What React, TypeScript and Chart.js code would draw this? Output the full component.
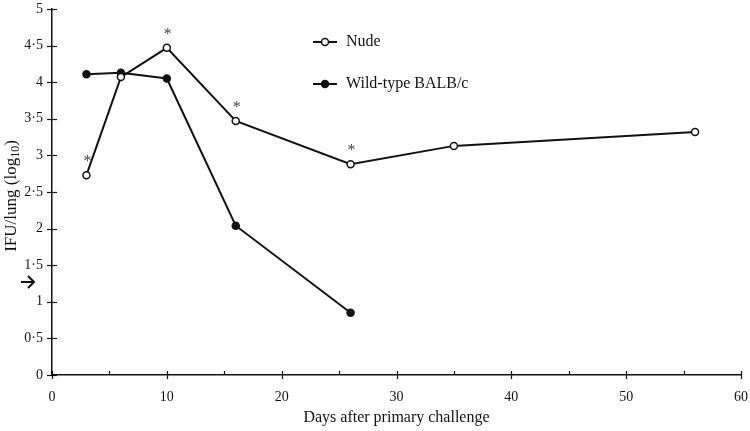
import React, { useEffect, useRef } from "react";
import { Chart, registerables } from "chart.js";

Chart.register(...registerables);

// ---- data ----
const seriesLabels = ["Nude", "Wild-type BALB/c"];
const nudeDays = [3, 6, 10, 16, 26, 35, 56];
const nudeValues = [2.73, 4.07, 4.47, 3.47, 2.88, 3.13, 3.32];
const wildDays = [3, 6, 10, 16, 26];
const wildValues = [4.11, 4.13, 4.05, 2.04, 0.85];
const asteriskDays = [3, 10, 16, 26];
const xMajorTicks = [0, 10, 20, 30, 40, 50, 60];
const xMinorTicks = [5, 15, 25, 35, 45, 55];
const yTicks = [0, 0.5, 1, 1.5, 2, 2.5, 3, 3.5, 4, 4.5, 5];
const detectionLimit = 1.27;
const xTitle = "Days after primary challenge";
const yTitleMain = "IFU/lung (log";
const yTitleSub = "10";
const yTitleEnd = ")";

const FONT = "'Liberation Serif', 'DejaVu Serif', serif";
const INK = "#111";

const decor = {
  id: "decor",
  afterDraw(chart: any) {
    const ctx = chart.ctx as CanvasRenderingContext2D;
    const xs = chart.scales.x;
    const ys = chart.scales.y;
    const area = chart.chartArea;
    ctx.save();
    ctx.strokeStyle = INK;
    ctx.lineWidth = 1.2;
    for (const v of yTicks) {
      const py = Math.round(ys.getPixelForValue(v)) + 0.5;
      ctx.beginPath();
      ctx.moveTo(area.left - 5, py);
      ctx.lineTo(area.left + 5, py);
      ctx.stroke();
    }
    for (const v of xMajorTicks) {
      const px = Math.round(xs.getPixelForValue(v)) + 0.5;
      ctx.beginPath();
      ctx.moveTo(px, area.bottom - 4);
      ctx.lineTo(px, area.bottom + 4);
      ctx.stroke();
    }
    for (const v of xMinorTicks) {
      const px = Math.round(xs.getPixelForValue(v)) + 0.5;
      ctx.beginPath();
      ctx.moveTo(px, area.bottom - 4);
      ctx.lineTo(px, area.bottom);
      ctx.stroke();
    }
    // asterisks
    ctx.fillStyle = "#444";
    ctx.font = `16px ${FONT}`;
    ctx.textAlign = "center";
    ctx.textBaseline = "alphabetic";
    for (const d of asteriskDays) {
      const i = nudeDays.indexOf(d);
      const px = xs.getPixelForValue(d);
      const py = ys.getPixelForValue(nudeValues[i]);
      ctx.fillText("*", px + 1, py - 9);
    }
    // arrow marking detection limit
    const ay = ys.getPixelForValue(detectionLimit);
    ctx.strokeStyle = INK;
    ctx.lineWidth = 2;
    ctx.beginPath();
    ctx.moveTo(21, ay);
    ctx.lineTo(34, ay);
    ctx.moveTo(28, ay - 6);
    ctx.lineTo(34, ay);
    ctx.lineTo(28, ay + 6);
    ctx.stroke();
    // legend
    const legendY = [42, 84];
    chart.data.datasets.forEach((ds: any, i: number) => {
      const y = legendY[i];
      ctx.strokeStyle = INK;
      ctx.lineWidth = 2;
      ctx.beginPath();
      ctx.moveTo(313, y);
      ctx.lineTo(337, y);
      ctx.stroke();
      ctx.beginPath();
      ctx.arc(325, y, 3.5, 0, Math.PI * 2);
      ctx.fillStyle = ds.pointBackgroundColor;
      ctx.fill();
      ctx.lineWidth = 1.5;
      ctx.stroke();
      ctx.fillStyle = INK;
      ctx.font = `16px ${FONT}`;
      ctx.textAlign = "left";
      ctx.textBaseline = "middle";
      ctx.fillText(ds.label, 346, y);
    });
    // y title with subscript
    ctx.save();
    const cy = 196;
    ctx.translate(12, cy);
    ctx.rotate(-Math.PI / 2);
    ctx.fillStyle = INK;
    ctx.textBaseline = "middle";
    ctx.textAlign = "left";
    ctx.font = `17px ${FONT}`;
    const w1 = ctx.measureText(yTitleMain).width;
    ctx.font = `12px ${FONT}`;
    const w2 = ctx.measureText(yTitleSub).width;
    ctx.font = `17px ${FONT}`;
    const w3 = ctx.measureText(yTitleEnd).width;
    let x0 = -(w1 + w2 + w3) / 2;
    ctx.fillText(yTitleMain, x0, 0);
    x0 += w1;
    ctx.font = `12px ${FONT}`;
    ctx.fillText(yTitleSub, x0, 4);
    x0 += w2;
    ctx.font = `17px ${FONT}`;
    ctx.fillText(yTitleEnd, x0, 0);
    ctx.restore();
    ctx.restore();
  },
};

export default function App() {
  const ref = useRef<HTMLCanvasElement>(null);
  useEffect(() => {
    if (!ref.current) return;
    const chart = new Chart(ref.current, {
      type: "line",
      data: {
        datasets: [
          {
            label: seriesLabels[0],
            data: nudeDays.map((d, i) => ({ x: d, y: nudeValues[i] })),
            borderColor: INK,
            borderWidth: 2,
            pointBackgroundColor: "#ffffff",
            pointBorderColor: INK,
            pointBorderWidth: 1.5,
            pointRadius: 3.5,
            tension: 0,
          },
          {
            label: seriesLabels[1],
            data: wildDays.map((d, i) => ({ x: d, y: wildValues[i] })),
            borderColor: INK,
            borderWidth: 2,
            pointBackgroundColor: INK,
            pointBorderColor: INK,
            pointBorderWidth: 1.5,
            pointRadius: 3.5,
            tension: 0,
          },
        ],
      },
      options: {
        animation: false,
        responsive: false,
        maintainAspectRatio: false,
        layout: { padding: { left: 0, right: 9, top: 9, bottom: 0 } },
        plugins: { legend: { display: false }, tooltip: { enabled: false } },
        scales: {
          x: {
            type: "linear",
            min: 0,
            max: 60,
            afterFit: (s: any) => {
              s.height = 56;
              s.paddingLeft = 0;
              s.paddingRight = 0;
            },
            afterBuildTicks: (s: any) => {
              s.ticks = xMajorTicks.map((v) => ({ value: v }));
            },
            grid: { display: false, drawTicks: false },
            border: { display: true, color: INK, width: 1.5 },
            ticks: {
              color: INK,
              font: { family: FONT, size: 14 },
              padding: 14,
              maxRotation: 0,
            },
            title: {
              display: true,
              text: xTitle,
              color: INK,
              font: { family: FONT, size: 16 },
              padding: { top: 0, bottom: 4 },
            },
          },
          y: {
            type: "linear",
            min: 0,
            max: 5,
            afterFit: (s: any) => {
              s.width = 52;
              s.paddingTop = 0;
              s.paddingBottom = 0;
            },
            afterBuildTicks: (s: any) => {
              s.ticks = yTicks.map((v) => ({ value: v }));
            },
            grid: { display: false, drawTicks: false },
            border: { display: true, color: INK, width: 1.5 },
            ticks: {
              color: INK,
              font: { family: FONT, size: 14 },
              padding: 9,
              callback: (v: any) => String(v).replace(".", "·"),
            },
          },
        },
      },
      plugins: [decor],
    });
    return () => chart.destroy();
  }, []);
  return (
    <div style={{ position: "fixed", left: 0, top: 0, width: 750, height: 431, background: "#fff" }}>
      <canvas ref={ref} width={750} height={431} style={{ width: 750, height: 431 }} />
    </div>
  );
}
